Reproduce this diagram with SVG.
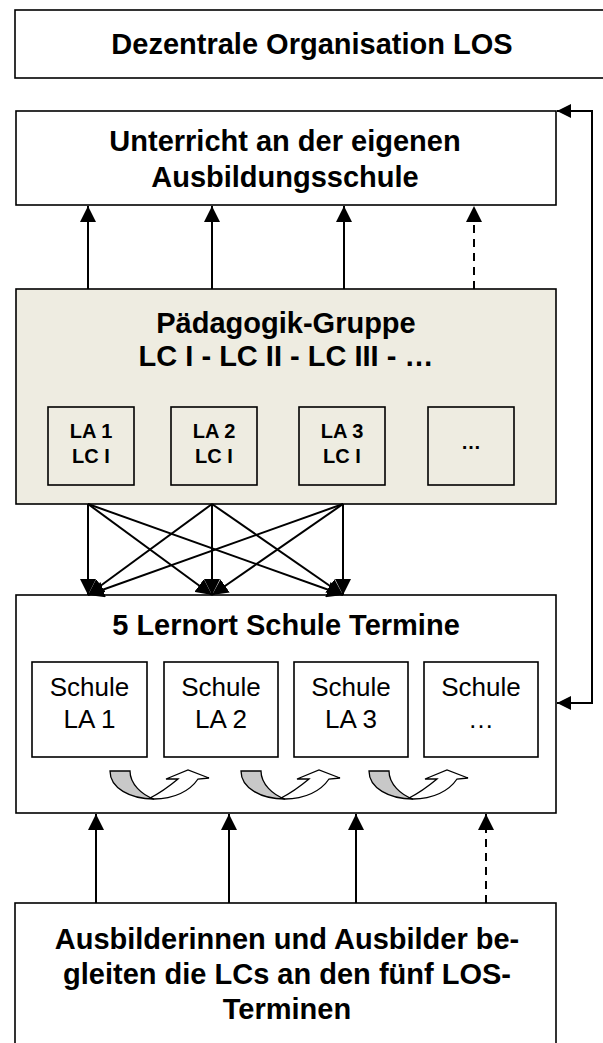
<svg xmlns="http://www.w3.org/2000/svg" width="603" height="1043" viewBox="0 0 603 1043">
<style>
.box{fill:#fff;stroke:#000;stroke-width:1.6}
.tan{fill:#EEECE1;stroke:#000;stroke-width:1.6}
.t{font-family:"Liberation Sans",Arial,sans-serif;font-weight:bold;font-size:29px;text-anchor:middle;fill:#000}
.s{font-family:"Liberation Sans",Arial,sans-serif;font-weight:bold;font-size:20px;text-anchor:middle;fill:#000}
.r{font-family:"Liberation Sans",Arial,sans-serif;font-size:26px;text-anchor:middle;fill:#000}
.ln{fill:none;stroke:#000;stroke-width:2}
.dash{stroke-dasharray:8 6}
.gray{fill:#C8C8C8;stroke:#000;stroke-width:1.3}
.wht{fill:#fff;stroke:#000;stroke-width:1.3}
</style>
<defs>
<marker id="ah" viewBox="0 0 16 16" markerWidth="16" markerHeight="16" refX="16" refY="8" orient="auto" markerUnits="userSpaceOnUse">
<path d="M0,0 L16,8 L0,16 Z" fill="#000"/>
</marker>
<marker id="ahs" viewBox="0 0 14 14" markerWidth="14" markerHeight="14" refX="14" refY="7" orient="auto" markerUnits="userSpaceOnUse">
<path d="M0,0 L14,7 L0,14 Z" fill="#000"/>
</marker>
<g id="curl">
<path class="gray" d="M0,1 C0,18 20,29 44,29 C32,25 20,14 20,1 Z"/>
<path class="wht" d="M40,28 C52,22 62,14 68,9 L56,9 L78,0 L99,8 L88,9 C80,21 64,29 44,29 Z"/>
</g>
</defs>

<g id="n-dezentral">
<rect class="box" x="15" y="10" width="600" height="68"/>
<text class="t" x="312" y="54">Dezentrale Organisation LOS</text>
</g>

<g id="n-unterricht">
<rect class="box" x="16" y="111" width="540" height="94"/>
<text class="t" x="285" y="151">Unterricht an der eigenen</text>
<text class="t" x="285" y="187">Ausbildungsschule</text>
</g>

<g id="n-paedagogik">
<rect class="tan" x="16" y="289" width="540" height="215"/>
<text class="t" x="286" y="333">Pädagogik-Gruppe</text>
<text class="t" x="286" y="366">LC I - LC II - LC III - …</text>
</g>
<g id="n-la1"><rect class="tan" x="48" y="407" width="86" height="78"/><text class="s" x="91" y="438">LA 1</text><text class="s" x="91" y="463">LC I</text></g>
<g id="n-la2"><rect class="tan" x="171" y="407" width="86" height="78"/><text class="s" x="214" y="438">LA 2</text><text class="s" x="214" y="463">LC I</text></g>
<g id="n-la3"><rect class="tan" x="299" y="407" width="86" height="78"/><text class="s" x="342" y="438">LA 3</text><text class="s" x="342" y="463">LC I</text></g>
<g id="n-la4"><rect class="tan" x="428" y="407" width="86" height="78"/><text class="s" x="471" y="449">…</text></g>

<g id="n-lernort">
<rect class="box" x="16" y="595" width="540" height="218"/>
<text class="t" x="286" y="635">5 Lernort Schule Termine</text>
</g>
<g id="n-schule1"><rect class="box" x="32" y="662" width="115" height="95"/><text class="r" x="89.5" y="696">Schule</text><text class="r" x="89.5" y="728">LA 1</text></g>
<g id="n-schule2"><rect class="box" x="164" y="662" width="114" height="95"/><text class="r" x="221" y="696">Schule</text><text class="r" x="221" y="728">LA 2</text></g>
<g id="n-schule3"><rect class="box" x="294" y="662" width="114" height="95"/><text class="r" x="351" y="696">Schule</text><text class="r" x="351" y="728">LA 3</text></g>
<g id="n-schule4"><rect class="box" x="424" y="662" width="114" height="95"/><text class="r" x="481" y="696">Schule</text><text class="r" x="481" y="728">…</text></g>
<g id="curls">
<use href="#curl" x="110" y="770"/>
<use href="#curl" x="241" y="770"/>
<use href="#curl" x="369" y="770"/>
</g>

<g id="n-ausbilder">
<rect class="box" x="15" y="903" width="541" height="160"/>
<text class="t" x="287" y="949">Ausbilderinnen und Ausbilder be-</text>
<text class="t" x="287" y="984">gleiten die LCs an den fünf LOS-</text>
<text class="t" x="287" y="1019">Terminen</text>
</g>

<g id="connectors">
<path class="ln" d="M88,289 L88,206" marker-end="url(#ah)"/>
<path class="ln" d="M212,289 L212,206" marker-end="url(#ah)"/>
<path class="ln" d="M344,289 L344,206" marker-end="url(#ah)"/>
<path class="ln dash" d="M474,289 L474,206" marker-end="url(#ah)"/>

<path class="ln" d="M88,504 L88,595" marker-end="url(#ah)"/>
<path class="ln" d="M88,504 L212,595" marker-end="url(#ah)"/>
<path class="ln" d="M88,504 L343,595" marker-end="url(#ah)"/>
<path class="ln" d="M212,504 L88,595" marker-end="url(#ah)"/>
<path class="ln" d="M212,504 L212,595" marker-end="url(#ah)"/>
<path class="ln" d="M212,504 L343,595" marker-end="url(#ah)"/>
<path class="ln" d="M343,504 L88,595" marker-end="url(#ah)"/>
<path class="ln" d="M343,504 L212,595" marker-end="url(#ah)"/>
<path class="ln" d="M343,504 L343,595" marker-end="url(#ah)"/>

<path class="ln" d="M96,903 L96,814" marker-end="url(#ah)"/>
<path class="ln" d="M229,903 L229,814" marker-end="url(#ah)"/>
<path class="ln" d="M356,903 L356,814" marker-end="url(#ah)"/>
<path class="ln dash" d="M486,903 L486,814" marker-end="url(#ah)"/>

<path class="ln" d="M592,400 L592,111 L557,111" marker-end="url(#ahs)"/>
<path class="ln" d="M592,400 L592,703 L557,703" marker-end="url(#ahs)"/>
</g>
</svg>
